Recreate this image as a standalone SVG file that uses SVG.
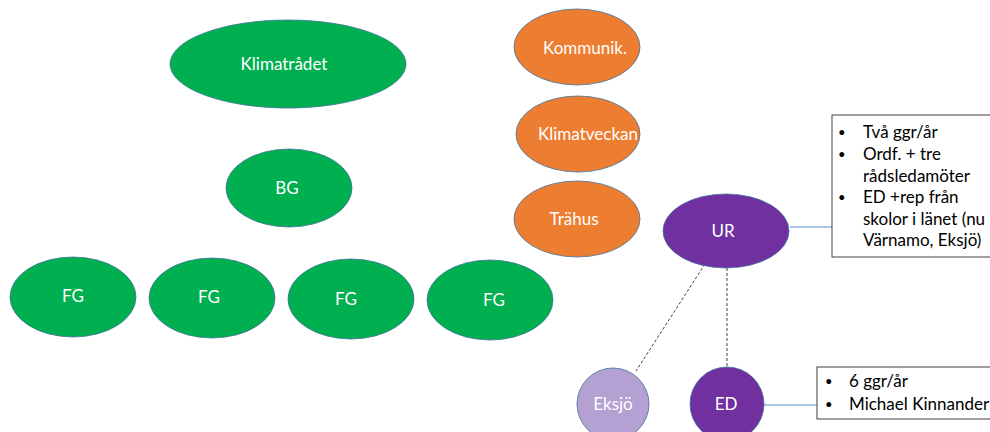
<svg xmlns="http://www.w3.org/2000/svg" width="990" height="432" viewBox="0 0 990 432">
<style>
.n{stroke:#41719C;stroke-width:0.8}
.g{fill:#00B050}
.o{fill:#ED7D31}
.p{fill:#7030A0}
.lp{fill:#B4A0D2}
.t{font-family:Lato,"Open Sans",sans-serif;font-size:17px;fill:#fff;text-anchor:middle}
.b{font-family:Lato,"Open Sans",sans-serif;font-size:17px;fill:#000}
.d{font-family:Lato,"Open Sans",sans-serif;font-size:13px;fill:#000}
.box{fill:#fff;stroke:#404040;stroke-width:1}
.dash{stroke:#404040;stroke-width:1;stroke-dasharray:3,2;fill:none}
.link{stroke:#5B8BD0;stroke-width:1;fill:none}
</style>
<rect width="990" height="432" fill="#fff"/>
<g id="connectors">
<line class="dash" x1="727" y1="268" x2="727" y2="367"/>
<line class="dash" x1="705" y1="264" x2="636" y2="371"/>
<line class="link" x1="790" y1="227" x2="832" y2="227"/>
<line class="link" x1="764" y1="405" x2="817" y2="405"/>
</g>
<g id="klimatradet"><ellipse class="n g" cx="288" cy="64" rx="118" ry="44"/><text class="t" x="284" y="70">Klimatrådet</text></g>
<g id="bg"><ellipse class="n g" cx="289" cy="188" rx="63" ry="39"/><text class="t" x="287" y="194">BG</text></g>
<g id="fg1"><ellipse class="n g" cx="73" cy="297" rx="63" ry="40"/><text class="t" x="73" y="302">FG</text></g>
<g id="fg2"><ellipse class="n g" cx="212" cy="298" rx="63" ry="40"/><text class="t" x="209" y="303">FG</text></g>
<g id="fg3"><ellipse class="n g" cx="351" cy="299" rx="63" ry="40"/><text class="t" x="346" y="305">FG</text></g>
<g id="fg4"><ellipse class="n g" cx="490" cy="300" rx="63" ry="40"/><text class="t" x="494" y="306">FG</text></g>
<g id="kommunik"><ellipse class="n o" cx="577" cy="47" rx="63" ry="38"/><text class="t" x="585" y="54">Kommunik.</text></g>
<g id="klimatveckan"><ellipse class="n o" cx="578" cy="134" rx="62" ry="38"/><text class="t" x="588" y="140">Klimatveckan</text></g>
<g id="trahus"><ellipse class="n o" cx="577" cy="219" rx="63" ry="38"/><text class="t" x="574" y="225">Trähus</text></g>
<g id="ur"><ellipse class="n p" cx="726" cy="231" rx="63" ry="37"/><text class="t" x="723" y="237">UR</text></g>
<g id="eksjo"><circle class="n lp" cx="613" cy="404" r="36"/><text class="t" x="613" y="410">Eksjö</text></g>
<g id="ed"><circle class="n p" cx="727" cy="404" r="37"/><text class="t" x="726" y="410">ED</text></g>
<g id="urbox">
<rect class="box" x="832" y="115" width="170" height="142"/>
<text class="d" x="838" y="137">•</text><text class="b" x="863" y="138">Två ggr/år</text>
<text class="d" x="838" y="159">•</text><text class="b" x="863" y="160">Ordf. + tre</text>
<text class="b" x="863" y="182">rådsledamöter</text>
<text class="d" x="838" y="202">•</text><text class="b" x="863" y="203">ED +rep från</text>
<text class="b" x="863" y="225">skolor i länet (nu</text>
<text class="b" x="863" y="246">Värnamo, Eksjö)</text>
</g>
<g id="edbox">
<rect class="box" x="817" y="367" width="180" height="52"/>
<text class="d" x="825" y="386">•</text><text class="b" x="849" y="387">6 ggr/år</text>
<text class="d" x="825" y="409">•</text><text class="b" x="849" y="410">Michael Kinnander</text>
</g>
</svg>
